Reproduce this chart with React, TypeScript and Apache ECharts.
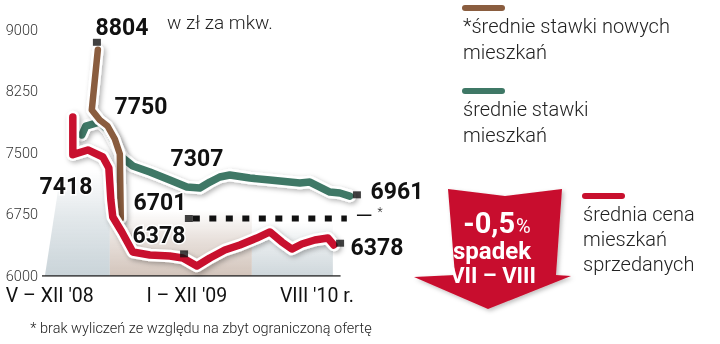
import React, { useEffect, useRef } from 'react';
import * as echarts from 'echarts';

// ---- data (month index: 0 = V 2008 ... 27 = VIII 2010) ----
const yMin = 6000;
const yMax = 9000;
const yStep = 750;

const periodLabels = ["V – XII '08", "I – XII '09", "VIII '10 r."];
const periodCenters = [-2.39, 11.84, 25.34];

const redMonths = [0, 0, 1.56, 3.12, 3.74, 3.95, 4.15, 5.09, 6.23, 8.0, 10.07, 11.42, 12.15, 12.88, 14.23, 15.78, 17.34, 19.1, 20.46, 21.7, 22.74, 23.78, 25.13, 26.48, 27.1];
const redValues = [7939, 7480, 7537, 7451, 7317, 6927, 6720, 6537, 6293, 6256, 6244, 6220, 6171, 6122, 6220, 6317, 6378, 6463, 6537, 6415, 6329, 6390, 6439, 6463, 6378];

const greenMonths = [0.93, 1.35, 2.8, 3.63, 4.36, 5.19, 6.23, 8.0, 10.07, 11.84, 13.19, 14.23, 15.26, 16.3, 18.38, 20.46, 22.53, 23.57, 24.61, 25.65, 26.69, 27.73, 28.76];
const greenValues = [7720, 7829, 7878, 7780, 7622, 7439, 7341, 7268, 7171, 7085, 7073, 7146, 7207, 7232, 7195, 7171, 7146, 7134, 7146, 7085, 7024, 7012, 6975];

const brownMonths = [2.6, 1.97, 2.8, 3.6, 4.36, 4.88, 4.98];
const brownValues = [8760, 8024, 7902, 7829, 7671, 7488, 6700];

const dottedMonths = [12.46, 28.45];
const dottedValues = [6701, 6701];

const dashMonths = [29.5, 31.0];
const dashValues = [6740, 6740];

const baselineMonths = [-3.2, 27.8];

const markerMonths = [2.5, 12.05, 11.55, 27.75, 29.5];
const markerValues = [8850, 6701, 6270, 6400, 6990];

// panels: [start bottom, start top, end, top value]
const panelStartBottom = [-2.9, 3.84, 18.59];
const panelStartTop = [-1.2, 3.84, 18.59];
const panelEnd = [3.84, 18.59, 27.0];
const panelTop = [7300, 6800, 6650];

const valueLabels = ['8804', '7750', '7418', '6701', '6378', '7307', '6961', '6378'];
const legendTexts = ['*średnie stawki nowych\nmieszkań', 'średnie stawki\nmieszkań', 'średnia cena\nmieszkań\nsprzedanych'];
const unitText = 'w zł za mkw.';
const footnote = '* brak wyliczeń ze względu na zbyt ograniczoną ofertę';
const changeValue = '-0,5';
const changeUnit = '%';
const changeWord = 'spadek';
const changePeriod = 'VII – VIII';

// ---- styles ----
const RED = '#c8102e';
const GREEN = '#3f7866';
const BROWN = '#8a5d3f';
const panelColors = ['rgba(192,204,210,', 'rgba(203,186,175,', 'rgba(198,208,213,'];
const labelPos: [number, number][] = [
  [122, 27], [141, 106], [66, 186], [160, 202], [159, 235], [197, 158], [397, 191], [377, 247],
];

const zip = (xs: number[], ys: number[]) => xs.map((x, i) => [x, ys[i]]);

function lineWithHalo(name: string, xs: number[], ys: number[], color: string, width: number) {
  const data = zip(xs, ys);
  return [
    {
      type: 'line', name: name + '-halo', data, symbol: 'none', silent: true,
      lineStyle: {
        color: '#ffffff', width: width + 5, cap: 'round', join: 'round',
        shadowColor: 'rgba(0,0,0,0.3)', shadowBlur: 5, shadowOffsetX: 2, shadowOffsetY: 2,
      },
    },
    {
      type: 'line', name, data, symbol: 'none', silent: true,
      lineStyle: { color, width, cap: 'round', join: 'round' },
    },
  ];
}

export default function App() {
  const ref = useRef<HTMLDivElement>(null);
  useEffect(() => {
    if (!ref.current) return;
    const chart = echarts.init(ref.current, null, { renderer: 'svg' });
    const font = 'Roboto, "Noto Sans", sans-serif';
    const numStyle = (i: number) => ({
      type: 'text', x: labelPos[i][0], y: labelPos[i][1], z: 100,
      style: {
        text: valueLabels[i], fill: '#111', font: `bold 23px ${font}`, lineHeight: 20,
        align: 'center', verticalAlign: 'middle', stroke: '#fff', lineWidth: 3,
      },
    });
    const panelData = panelStartBottom.map((v, i) => [v, panelStartTop[i], panelEnd[i], panelTop[i], i]);

    chart.setOption({
      animation: false,
      grid: { left: 42, top: 30, width: 334.2, height: 246, outerBoundsMode: 'none' },
      xAxis: {
        type: 'value', min: -3.2, max: 31.5,
        axisLine: { show: false }, axisTick: { show: false }, splitLine: { show: false },
        axisLabel: {
          customValues: periodCenters,
          formatter: (v: number) => {
            let best = 0;
            periodCenters.forEach((c, i) => { if (Math.abs(c - v) < Math.abs(periodCenters[best] - v)) best = i; });
            return periodLabels[best];
          },
          fontSize: 19.5, fontFamily: font, color: '#111', margin: 9,
        },
      },
      yAxis: {
        type: 'value', min: yMin, max: yMax, interval: yStep,
        axisLine: { show: false }, axisTick: { show: false }, splitLine: { show: false },
        axisLabel: {
          formatter: (v: number) => String(v),
          fontSize: 14.5, fontFamily: font, fontWeight: 300, color: '#333', margin: 4,
        },
      },
      series: [
        {
          type: 'custom', silent: true, data: panelData,
          renderItem: (params: any, api: any) => {
            const b0 = api.coord([api.value(0), yMin]);
            const t0 = api.coord([api.value(1), api.value(3)]);
            const t1 = api.coord([api.value(2), api.value(3)]);
            const b1 = api.coord([api.value(2), yMin]);
            const c = panelColors[api.value(4)];
            return {
              type: 'polygon',
              shape: { points: [b0, t0, t1, b1] },
              style: {
                fill: new echarts.graphic.LinearGradient(0, 0, 0, 1, [
                  { offset: 0, color: c + '0)' },
                  { offset: 0.45, color: c + '0.45)' },
                  { offset: 1, color: c + '0.85)' },
                ]),
              },
            };
          },
        },
        {
          type: 'line', data: zip(baselineMonths, [yMin, yMin]), symbol: 'none', silent: true,
          lineStyle: { color: '#222', width: 1.5 },
        },
        ...lineWithHalo('green', greenMonths, greenValues, GREEN, 7.5),
        ...lineWithHalo('brown', brownMonths, brownValues, BROWN, 6.5),
        ...lineWithHalo('red', redMonths, redValues, RED, 7.5),
        {
          type: 'line', data: zip(dottedMonths, dottedValues), symbol: 'none', silent: true,
          lineStyle: { color: '#111', width: 6, type: [7, 9.5], cap: 'butt' },
        },
        {
          type: 'line', data: zip(dashMonths, dashValues), symbol: 'none', silent: true,
          lineStyle: { color: '#111', width: 1.5 },
        },
        {
          type: 'scatter', data: zip(markerMonths, markerValues), symbol: 'rect', symbolSize: [8, 7],
          silent: true, itemStyle: { color: '#111' }, z: 5,
        },
      ],
      graphic: [
        // legend
        { type: 'rect', shape: { x: 462, y: 5, width: 43, height: 6, r: 3 }, style: { fill: BROWN } },
        { type: 'rect', shape: { x: 462, y: 88, width: 43, height: 6, r: 3 }, style: { fill: GREEN } },
        { type: 'rect', shape: { x: 582, y: 193, width: 43, height: 6, r: 3 }, style: { fill: RED } },
        { type: 'text', x: 463, y: 13, style: { text: legendTexts[0], font: `300 20px ${font}`, fill: '#222', lineHeight: 26, verticalAlign: 'top' } },
        { type: 'text', x: 463, y: 96, style: { text: legendTexts[1], font: `300 20px ${font}`, fill: '#222', lineHeight: 26, verticalAlign: 'top' } },
        { type: 'text', x: 583, y: 201, style: { text: legendTexts[2], font: `300 20px ${font}`, fill: '#222', lineHeight: 25, verticalAlign: 'top' } },
        // unit
        { type: 'text', x: 167, y: 22, style: { text: unitText, font: `300 19px ${font}`, fill: '#222', verticalAlign: 'middle' } },
        // footnote
        { type: 'text', x: 201, y: 328, style: { text: footnote, font: `300 14.5px ${font}`, fill: '#222', align: 'center', verticalAlign: 'middle' } },
        // asterisk
        { type: 'text', x: 380, y: 212, style: { text: '*', font: `300 12px ${font}`, fill: '#222', align: 'center', verticalAlign: 'middle' } },
        // arrow
        {
          type: 'polygon', z: 50,
          shape: { points: [[448, 189], [505, 196], [562, 189], [556, 275], [571, 276], [488, 309], [414, 277], [455, 275]] },
          style: { fill: RED, shadowColor: 'rgba(0,0,0,0.25)', shadowBlur: 4, shadowOffsetX: 2, shadowOffsetY: 2 },
        },
        {
          type: 'text', x: 497, y: 223, z: 60,
          style: {
            text: `{a|${changeValue}}{b|${changeUnit}}`, align: 'center', verticalAlign: 'middle',
            rich: {
              a: { font: `bold 29px ${font}`, fill: '#fff', color: '#fff' },
              b: { font: `400 20px ${font}`, fill: '#fff', color: '#fff', padding: [6, 0, 0, 1] },
            },
          },
        },
        { type: 'text', x: 492, y: 251, z: 60, style: { text: changeWord, font: `bold 24px ${font}`, fill: '#fff', align: 'center', verticalAlign: 'middle' } },
        { type: 'text', x: 493, y: 275, z: 60, style: { text: changePeriod, font: `bold 22px ${font}`, fill: '#fff', align: 'center', verticalAlign: 'middle' } },
        // value labels
        ...valueLabels.map((_, i) => numStyle(i)),
      ],
    });
    return () => chart.dispose();
  }, []);
  return <div ref={ref} style={{ position: 'fixed', left: 0, top: 0, width: 720, height: 344 }} />;
}
